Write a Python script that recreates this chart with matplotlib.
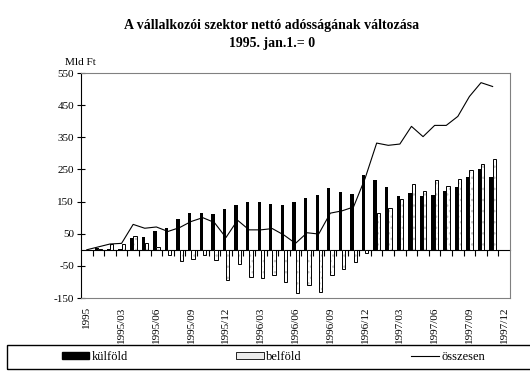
import matplotlib
matplotlib.use('Agg')
import matplotlib.pyplot as plt
import numpy as np
from matplotlib.patches import Patch, Rectangle
from matplotlib.lines import Line2D

plt.rcParams['font.family'] = ['Liberation Serif', 'DejaVu Serif']

# adatok (Mld Ft), havonta 1995 eleje -> 1997/11
kulfold = [0, 6, 1, 2, 38, 40, 58, 68, 96, 115,
           115, 111, 127, 138, 149, 149, 141, 139, 149, 162,
           172, 192, 180, 174, 232, 217, 195, 168, 176, 168,
           170, 183, 195, 226, 251, 226]
belfold = [0, 3, 17, 19, 42, 22, 9, -17, -36, -29,
           -17, -32, -94, -44, -85, -88, -78, -99, -134, -108,
           -130, -78, -60, -38, -10, 115, 130, 159, 204, 183,
           217, 200, 220, 248, 267, 281]
osszesen = [0, 9, 18, 20, 79, 67, 71, 57, 69, 88,
            100, 85, 38, 92, 62, 62, 66, 46, 20, 53,
            49, 114, 121, 133, 222, 332, 325, 329, 384, 352,
            387, 387, 415, 477, 520, 508]
n_kat = 37  # 1995 ... 1997/12
cimkek = ['1995', '1995/03', '1995/06', '1995/09', '1995/12', '1996/03',
          '1996/06', '1996/09', '1996/12', '1997/03', '1997/06', '1997/09',
          '1997/12']
yticks = [-150, -50, 50, 150, 250, 350, 450, 550]

x = np.arange(len(kulfold))

fig = plt.figure(figsize=(5.3, 3.74), dpi=100)
ax = fig.add_axes([0.1528, 0.2032, 0.8095, 0.6016])

w = 0.29
ax.bar(x - 0.13, kulfold, width=w, color='black', zorder=2)
ax.bar(x + 0.15, belfold, width=w, color='white', edgecolor='#c4c4c4',
       hatch='...', linewidth=0, zorder=2)
ax.bar(x + 0.15, belfold, width=w, fill=False, edgecolor='black',
       linewidth=0.7, zorder=3)
ax.plot(x, osszesen, color='black', linewidth=0.8, zorder=4)

ax.set_xlim(-0.5, n_kat - 0.5)
ax.set_ylim(-150, 550)
ax.set_yticks(yticks)
ax.set_yticklabels([str(v) for v in yticks], fontsize=8)
ax.tick_params(axis='y', direction='inout', length=6, width=0.8, pad=2)

ax.set_xticks(np.arange(0, n_kat, 3))
ax.set_xticklabels(cimkek, rotation=90, fontsize=8)
ax.tick_params(axis='x', length=0, pad=6)

for s in ['top', 'right', 'bottom']:
    ax.spines[s].set_color('#808080')
    ax.spines[s].set_linewidth(0.8)
ax.spines['left'].set_linewidth(0.8)

# nulla vonal a tickekkel
nulla = (0 - (-150)) / 700
sec = ax.secondary_xaxis(nulla)
sec.set_xticks(np.arange(0.5, n_kat - 0.5, 1))
sec.set_xticklabels([])
sec.tick_params(direction='out', length=4, width=0.8)
sec.spines['bottom'].set_linewidth(0.8)

fig.text(0.513, 0.933, 'A vállalkozói szektor nettó adósságának változása',
         ha='center', va='center', fontsize=10, fontweight='bold')
fig.text(0.513, 0.885, '1995. jan.1.= 0', ha='center', va='center',
         fontsize=10, fontweight='bold')
fig.text(0.123, 0.834, 'Mld Ft', ha='left', va='center', fontsize=8)

# jelmagyarazat
fig.patches.append(Rectangle((7 / 530, 1 - 369 / 374), 1.0, 24 / 374,
                             transform=fig.transFigure, fill=False,
                             edgecolor='black', linewidth=1))
h1 = Patch(facecolor='black', edgecolor='black')
h2 = Patch(facecolor='#ececec', edgecolor='black', linewidth=0.6)
h3 = Line2D([], [], color='black', linewidth=0.8)
for h, t, cx in [(h1, 'külföld', 95), (h2, 'belföld', 269), (h3, 'összesen', 448)]:
    fig.legend([h], [t], loc='center', bbox_to_anchor=(cx / 530, 1 - 357 / 374),
               frameon=False, fontsize=9, handlelength=2.2, handleheight=0.45,
               handletextpad=0.2, borderpad=0)

fig.savefig('out.png', dpi=100)
